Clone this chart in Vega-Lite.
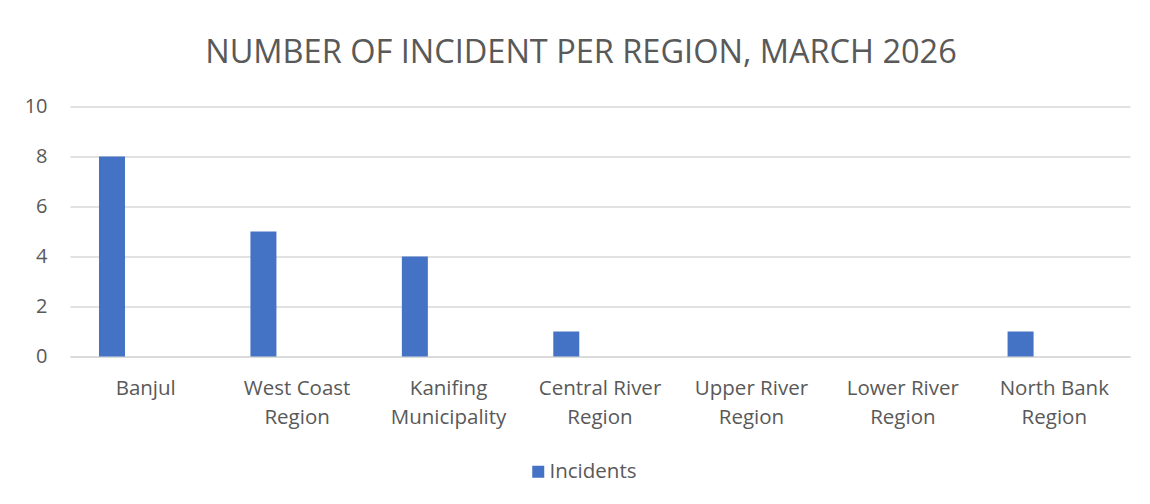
{
  "$schema": "https://vega.github.io/schema/vega-lite/v6.json",
  "width": 1060,
  "height": 250,
  "padding": {"left": 20, "top": 36.5, "right": 20, "bottom": 10},
  "background": "white",
  "title": {
    "text": "NUMBER OF INCIDENT PER REGION, MARCH 2026",
    "font": "Open Sans",
    "fontSize": 32.5,
    "fontWeight": "normal",
    "color": "#595959",
    "anchor": "middle",
    "dx": -19,
    "offset": 27
  },
  "data": {
    "values": [
      {"region": "Banjul", "series": "Incidents", "count": 8},
      {"region": "West Coast Region", "series": "Incidents", "count": 5},
      {"region": "Kanifing Municipality", "series": "Incidents", "count": 4},
      {"region": "Central River Region", "series": "Incidents", "count": 1},
      {"region": "Upper River Region", "series": "Incidents", "count": 0},
      {"region": "Lower River Region", "series": "Incidents", "count": 0},
      {"region": "North Bank Region", "series": "Incidents", "count": 1}
    ]
  },
  "mark": {"type": "bar", "color": "#4472c4"},
  "encoding": {
    "x": {
      "field": "region",
      "type": "nominal",
      "sort": null,
      "title": null,
      "scale": {"paddingInner": 0, "paddingOuter": 0},
      "axis": {
        "labelAngle": 0,
        "labelExpr": "indexof(datum.label, ' Region') > 0 ? [replace(datum.label, ' Region', ''), 'Region'] : (datum.label == 'Kanifing Municipality' ? ['Kanifing', 'Municipality'] : datum.label)",
        "labelFont": "Open Sans",
        "labelFontSize": 20.5,
        "labelColor": "#595959",
        "labelLineHeight": 29,
        "labelPadding": 22,
        "ticks": false,
        "domain": true,
        "domainColor": "#d9d9d9",
        "domainWidth": 1.5,
        "grid": false
      }
    },
    "xOffset": {
      "field": "series",
      "type": "nominal",
      "scale": {"domain": ["Incidents"], "paddingInner": 0.5854, "paddingOuter": 1, "align": 0.2312}
    },
    "y": {
      "field": "count",
      "type": "quantitative",
      "title": null,
      "scale": {"domain": [0, 10]},
      "axis": {
        "values": [0, 2, 4, 6, 8, 10],
        "labelFont": "Open Sans",
        "labelFontSize": 20,
        "labelColor": "#595959",
        "labelPadding": 23,
        "ticks": false,
        "domain": false,
        "grid": true,
        "gridColor": "#d9d9d9",
        "gridWidth": 1.5,
        "minExtent": 50,
        "maxExtent": 50
      }
    },
    "color": {
      "field": "series",
      "type": "nominal",
      "title": null,
      "scale": {"domain": ["Incidents"], "range": ["#4472c4"]},
      "legend": {
        "orient": "none",
        "legendX": 458,
        "legendY": 355,
        "direction": "horizontal",
        "symbolType": "square",
        "symbolSize": 144,
        "symbolStrokeWidth": 0,
        "labelFont": "Open Sans",
        "labelFontSize": 20.5,
        "labelColor": "#595959",
        "labelOffset": 1
      }
    }
  },
  "config": {
    "view": {"stroke": null}
  }
}
